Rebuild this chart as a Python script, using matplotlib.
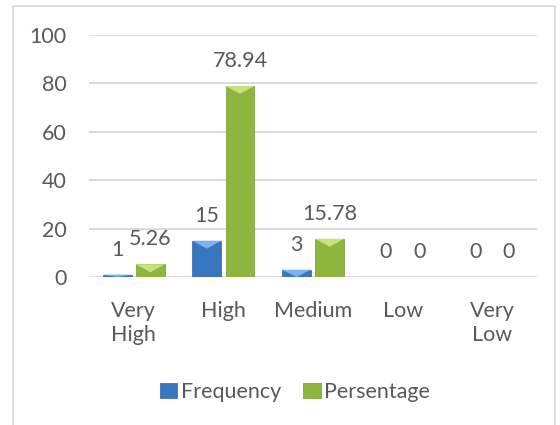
import matplotlib
matplotlib.use("Agg")
import matplotlib.pyplot as plt
import numpy as np
from matplotlib.patches import Polygon, Patch, Rectangle

categories = ["Very\nHigh", "High", "Medium", "Low", "Very\nLow"]
frequency = [1, 15, 3, 0, 0]
percentage = [5.26, 78.94, 15.78, 0, 0]
freq_labels = ["1", "15", "3", "0", "0"]
pct_labels = ["5.26", "78.94", "15.78", "0", "0"]
series_names = ["Frequency", "Persentage"]
yticks = [0, 20, 40, 60, 80, 100]

plt.rcParams["font.family"] = ["Lato", "DejaVu Sans"]
text_color = "#595959"
fs = 15.5

blue = "#3A76C0"
blue_top = "#7FB2EA"
green = "#8EB63E"
green_top = "#C8E27E"

fig = plt.figure(figsize=(5.6, 4.25), dpi=100)
ax = fig.add_axes([89 / 560, 1 - 277 / 425, 448 / 560, 242 / 425])

x = np.arange(len(categories))
w = 0.32
off = 0.185
b1 = ax.bar(x - off, frequency, w, color=blue, edgecolor="#2F64A6", linewidth=0.5, zorder=3)
b2 = ax.bar(x + off, percentage, w, color=green, edgecolor="#759736", linewidth=0.5, zorder=3)


def bevel(bars, top):
    for p in bars:
        h = p.get_height()
        if h <= 0:
            continue
        x0, bw = p.get_x(), p.get_width()
        d = min(3.3, h)
        tri = Polygon([(x0, h), (x0 + bw, h), (x0 + bw / 2, h - d)],
                      closed=True, facecolor=top, edgecolor="none", zorder=4)
        ax.add_patch(tri)


bevel(b1, blue_top)
bevel(b2, green_top)

for bars, labels in ((b1, freq_labels), (b2, pct_labels)):
    for p, lab in zip(bars, labels):
        ax.annotate(lab, (p.get_x() + p.get_width() / 2, p.get_height()),
                    xytext=(0, 18), textcoords="offset points",
                    ha="center", va="center", fontsize=fs, color=text_color)

ax.set_xlim(-0.5, len(categories) - 0.5)
ax.set_ylim(0, 100)
ax.set_yticks(yticks)
ax.set_xticks(x)
ax.set_xticklabels(categories, linespacing=1.3)
ax.tick_params(axis="both", length=0, labelsize=fs, colors=text_color)
ax.tick_params(axis="x", pad=17)
ax.tick_params(axis="y", pad=16)
ax.yaxis.grid(True, color="#D9D9D9", linewidth=1.4, zorder=0)
ax.set_axisbelow(True)
for s in ax.spines.values():
    s.set_visible(False)

handles = [Patch(facecolor=blue, edgecolor="#2F64A6", linewidth=0.5),
           Patch(facecolor=green, edgecolor="#759736", linewidth=0.5)]
fig.legend(handles, series_names, loc="center", bbox_to_anchor=(295 / 560, 1 - 392 / 425),
           ncol=2, frameon=False, fontsize=fs, labelcolor=text_color,
           handlelength=0.8, handleheight=0.75, handletextpad=0.15, columnspacing=1.05,
           borderpad=0, borderaxespad=0)

fig.patches.append(Rectangle((13 / 560, -0.05), (555 - 13) / 560, 1.05 - 6 / 425,
                             transform=fig.transFigure, fill=False,
                             edgecolor="#D9D9D9", linewidth=1.2))

fig.savefig("out.png", dpi=100)
